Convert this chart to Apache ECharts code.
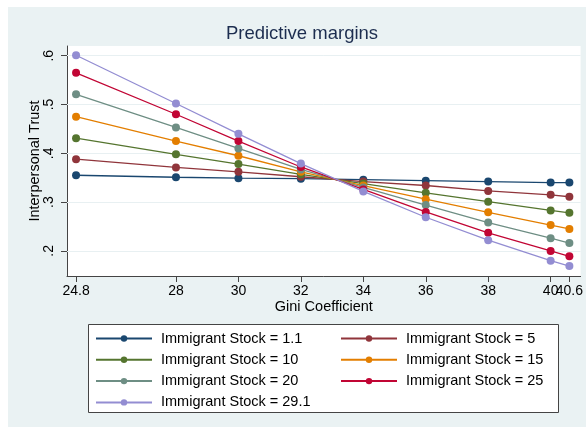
<!DOCTYPE html>
<html>
<head>
<meta charset="utf-8">
<script src="https://cdn.jsdelivr.net/npm/echarts@6/dist/echarts.min.js"></script>
<style>
html,body{margin:0;padding:0;background:#fff;}
#c{width:586px;height:427px;}
</style>
</head>
<body>
<div id="c"></div>
<script>
var gini = [24.8, 28, 30, 32, 34, 36, 38, 40, 40.6];
var xTickLabels = ['24.8', '28', '30', '32', '34', '36', '38', '40', '40.6'];
var xTicksMain = [24.8, 28, 30, 32, 34, 36, 38, 40];
var xTicksExtra = [40.6];
var yTicks = [0.2, 0.3, 0.4, 0.5, 0.6];
var yTickLabels = ['.2', '.3', '.4', '.5', '.6'];
var seriesNames = ['Immigrant Stock = 1.1', 'Immigrant Stock = 5', 'Immigrant Stock = 10', 'Immigrant Stock = 15', 'Immigrant Stock = 20', 'Immigrant Stock = 25', 'Immigrant Stock = 29.1'];
var stock1_1 = [0.355, 0.351, 0.349, 0.348, 0.346, 0.344, 0.342, 0.340, 0.340];
var stock5   = [0.388, 0.371, 0.362, 0.352, 0.342, 0.334, 0.323, 0.315, 0.311];
var stock10  = [0.431, 0.398, 0.378, 0.357, 0.338, 0.319, 0.301, 0.283, 0.278];
var stock15  = [0.475, 0.425, 0.395, 0.362, 0.334, 0.306, 0.279, 0.253, 0.245];
var stock20  = [0.521, 0.453, 0.410, 0.367, 0.330, 0.294, 0.258, 0.226, 0.216];
var stock25  = [0.565, 0.480, 0.425, 0.372, 0.326, 0.280, 0.237, 0.200, 0.189];
var stock29_1= [0.601, 0.502, 0.440, 0.379, 0.322, 0.269, 0.222, 0.180, 0.169];

var allValues = [stock1_1, stock5, stock10, stock15, stock20, stock25, stock29_1];
var colors = ['#1a476f', '#90353b', '#55752f', '#e37e00', '#6e8e84', '#c10534', '#938dd2'];

var FONT = 'Liberation Sans, Arial, sans-serif';
var X_MIN = 24.51, X_MAX = 40.96;

function xLabel(v) {
  for (var k = 0; k < gini.length; k++) {
    if (Math.abs(gini[k] - v) < 1e-9) return xTickLabels[k];
  }
  return '';
}

var series = allValues.map(function (vals, i) {
  return {
    name: seriesNames[i],
    type: 'line',
    xAxisIndex: 0,
    data: gini.map(function (g, j) { return [g, vals[j]]; }),
    symbol: 'circle',
    symbolSize: 8,
    lineStyle: { color: colors[i], width: 1.3 },
    itemStyle: { color: colors[i] },
    z: 3 + i,
    animation: false
  };
});

series.unshift({
  type: 'line',
  data: [],
  silent: true,
  markLine: {
    silent: true,
    symbol: 'none',
    label: { show: false },
    lineStyle: { color: '#e8f0f2', width: 1, type: 'solid' },
    data: yTicks.map(function (v) { return { yAxis: v }; }),
    animation: false
  },
  z: 1
});

var legendCommon = {
  orient: 'vertical',
  itemWidth: 56,
  itemHeight: 8,
  itemGap: 6.3,
  textStyle: { fontFamily: FONT, fontSize: 14.5, lineHeight: 14, color: '#000', padding: [0, 0, 0, 4] },
  padding: 0
};

var xLabelCommon = {
  margin: 8,
  hideOverlap: false,
  showMaxLabel: true,
  showMinLabel: true,
  fontFamily: FONT, fontSize: 14, color: '#000',
  formatter: xLabel
};

var chart = echarts.init(document.getElementById('c'));
chart.setOption({
  animation: false,
  backgroundColor: '#eaf2f3',
  graphic: [
    { type: 'rect', shape: { x: 0, y: 0, width: 586, height: 7 }, style: { fill: '#fff' }, silent: true },
    { type: 'rect', shape: { x: 0, y: 0, width: 8, height: 427 }, style: { fill: '#fff' }, silent: true },
    { type: 'rect', shape: { x: 88.5, y: 324.5, width: 470, height: 88 }, style: { fill: '#fff', stroke: '#444', lineWidth: 1 }, silent: true, z: 0 },
    { type: 'text', x: 302, y: 34, silent: true, style: { text: 'Predictive margins', fontFamily: FONT, fontSize: 18.5, fill: '#1c2d4f', align: 'center', verticalAlign: 'middle' } }
  ],
  grid: {
    left: 67, right: 4, top: 46, bottom: 151,
    show: true, backgroundColor: '#fff', borderWidth: 0
  },
  xAxis: [{
    type: 'value',
    position: 'bottom',
    min: X_MIN, max: X_MAX,
    name: 'Gini Coefficient',
    nameLocation: 'middle',
    nameGap: 23,
    nameMoveOverlap: false,
    nameTextStyle: { fontFamily: FONT, fontSize: 14.5, color: '#000' },
    axisLine: { show: true, lineStyle: { color: '#444', width: 1 } },
    axisTick: { show: true, length: 6, customValues: gini, lineStyle: { color: '#444' } },
    axisLabel: Object.assign({ customValues: xTicksMain }, xLabelCommon),
    splitLine: { show: false }
  }, {
    type: 'value',
    position: 'bottom',
    offset: 0,
    min: X_MIN, max: X_MAX,
    axisLine: { show: false },
    axisTick: { show: false },
    axisLabel: Object.assign({ customValues: xTicksExtra }, xLabelCommon),
    splitLine: { show: false }
  }],
  yAxis: {
    type: 'value',
    min: 0.1486, max: 0.6199,
    name: 'Interpersonal Trust',
    nameLocation: 'middle',
    nameGap: 25,
    nameMoveOverlap: false,
    nameRotate: 90,
    nameTextStyle: { fontFamily: FONT, fontSize: 14.5, color: '#000' },
    axisLine: { show: true, lineStyle: { color: '#444', width: 1 } },
    axisTick: { show: true, length: 6, customValues: yTicks, lineStyle: { color: '#444' } },
    axisLabel: {
      customValues: yTicks,
      rotate: 90,
      margin: 11,
      fontFamily: FONT, fontSize: 14, color: '#000',
      formatter: function (v) {
        for (var k = 0; k < yTicks.length; k++) {
          if (Math.abs(yTicks[k] - v) < 1e-9) return yTickLabels[k];
        }
        return '';
      }
    },
    splitLine: { show: false }
  },
  legend: [
    Object.assign({}, legendCommon, {
      left: 95, top: 331,
      data: [seriesNames[0], seriesNames[2], seriesNames[4], seriesNames[6]]
    }),
    Object.assign({}, legendCommon, {
      left: 340, top: 331,
      data: [seriesNames[1], seriesNames[3], seriesNames[5]]
    })
  ],
  series: series
});
</script>
</body>
</html>
